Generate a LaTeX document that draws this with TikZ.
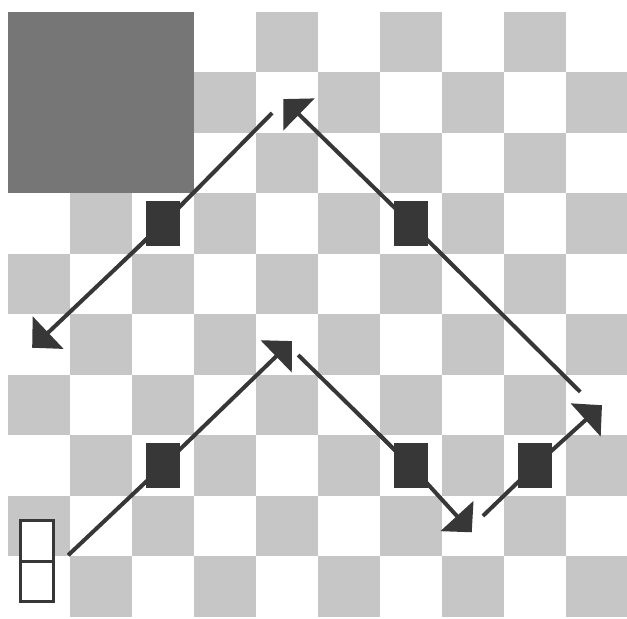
\documentclass[tikz,border=0pt]{standalone}
\usepackage{xcolor}
\usepackage{tikz}
\usetikzlibrary{arrows.meta, positioning}

\definecolor{boardgray}{RGB}{198,198,198}
\definecolor{cornergray}{RGB}{118,118,118}
\definecolor{inkgray}{RGB}{55,55,55}

\begin{document}
\begin{tikzpicture}[
    x=62pt, y=-60.5pt,
    >={Triangle[length=22pt, width=44pt]},
    cell/.style={fill=boardgray},
    marker/.style={fill=inkgray, inner sep=0pt, minimum width=34pt, minimum height=45pt},
    homebox/.style={draw=inkgray, fill=white, line width=3pt, inner sep=0pt, minimum width=33pt, minimum height=40.5pt},
    move/.style={->, line width=4pt, draw=inkgray, fill=inkgray}
]

\useasboundingbox[fill=white] (-0.129,-0.198) rectangle (9.984,10.033);

% Board
\foreach \r in {0,...,9}
  \foreach \c in {0,...,9}{
    \pgfmathparse{int(mod(\r+\c,2))}
    \ifnum\pgfmathresult=0 \fill[cell] (\c,\r) rectangle ++(1,1); \fi
  }
\fill[cornergray] (0,0) rectangle (3,3);

% Nodes
\node[marker] (m1) at (2.5,3.5) {};
\node[marker] (m2) at (6.5,3.5) {};
\node[marker] (m3) at (2.5,7.5) {};
\node[marker] (m4) at (6.5,7.5) {};
\node[marker] (m5) at (8.5,7.5) {};

\node[homebox] (home1) at (0.47,8.74) {};
\node[homebox, below=-3pt of home1] (home2) {};

% Turning points
\coordinate (s1) at (0.97,8.98);  \coordinate (t1) at (4.58,5.44);
\coordinate (s2) at (4.68,5.67);  \coordinate (t2) at (7.48,8.60);
\coordinate (s3) at (7.66,8.33);  \coordinate (t3) at (9.58,6.50);
\coordinate (s4) at (9.23,6.28);  \coordinate (t4) at (4.44,1.44);
\coordinate (s5) at (4.26,1.67);  \coordinate (t5) at (0.39,5.55);

% Arrows
\draw[move] (s1) -- (m3.center) -- (t1);
\draw[move] (s2) -- (m4.center) -- (t2);
\draw[move] (s3) -- (m5.center) -- (t3);
\draw[move] (s4) -- (m2.center) -- (t4);
\draw[move] (s5) -- (m1.center) -- (t5);

\end{tikzpicture}
\end{document}
